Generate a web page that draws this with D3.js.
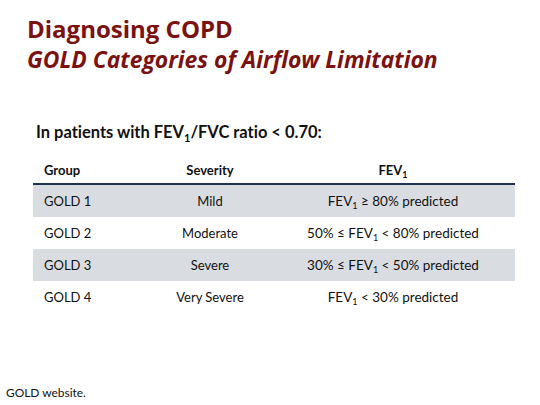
<!DOCTYPE html>
<html><head><meta charset="utf-8">
<script src="https://cdn.jsdelivr.net/npm/d3@7"></script>
<style>body{margin:0;background:#fff}svg{display:block}text{font-variant-ligatures:none}</style>
</head><body>
<svg id="c" width="540" height="405"></svg>
<script>
const groups = ["GOLD 1","GOLD 2","GOLD 3","GOLD 4"];
const severity = ["Mild","Moderate","Severe","Very Severe"];
const fevPre = ["", "50% \u2264 ", "30% \u2264 ", ""];
const fevPost = [" \u2265 80% predicted"," < 80% predicted"," < 50% predicted"," < 30% predicted"];
const headers = ["Group","Severity","FEV"];

const svg = d3.select("#c");
const F = "Lato, 'Open Sans', sans-serif";
const FO = "'Open Sans', Lato, sans-serif";
const red = "#7a1212";

function fit(t, w){
  const cur = t.node().getComputedTextLength();
  const k = w / cur;
  t.attr("font-size", +t.attr("font-size")*k);
  t.selectAll("tspan").each(function(){
    const s = d3.select(this);
    if(s.attr("font-size")) s.attr("font-size", +s.attr("font-size")*k);
  });
}

const t1 = svg.append("text").attr("x",27).attr("y",38).attr("fill",red)
  .attr("font-family",FO).attr("font-weight",700).attr("font-size",21).text("Diagnosing COPD");
fit(t1, 206);
const t2 = svg.append("text").attr("x",27).attr("y",68).attr("fill",red)
  .attr("font-family",FO).attr("font-weight",700).attr("font-style","italic").attr("font-size",19)
  .text("GOLD Categories of Airflow Limitation");
fit(t2, 411);

const sub = svg.append("text").attr("x",36).attr("y",138).attr("fill","#111")
  .attr("font-family",F).attr("font-weight",700).attr("font-size",15);
sub.append("tspan").text("In patients with FEV");
sub.append("tspan").attr("font-size",10).attr("dy",4).text("1");
sub.append("tspan").attr("dy",-4).text("/FVC ratio < 0.70:");
fit(sub, 286);

const x0 = 33, x1 = 515;
const y = d3.scaleBand().domain(groups).range([185, 313]);
const colX = [44, 210, 393];

headers.forEach((h,i)=>{
  const t = svg.append("text").attr("x",colX[i]).attr("y",175).attr("fill","#111")
    .attr("font-family",F).attr("font-weight",700).attr("font-size",13)
    .attr("text-anchor", i===0?"start":"middle");
  t.append("tspan").text(h);
  if(i===2){ t.append("tspan").attr("font-size",9).attr("dy",3).text("1"); }
});

svg.selectAll("rect.row").data(groups).join("rect").attr("class","row")
  .attr("x",x0).attr("width",x1-x0).attr("y",d=>y(d)).attr("height",y.bandwidth())
  .attr("fill",(d,i)=>i%2===0?"#d9dde2":"#ffffff");

svg.append("line").attr("x1",x0).attr("x2",x1).attr("y1",184).attr("y2",184)
  .attr("stroke","#1f3350").attr("stroke-width",2);

const rows = svg.selectAll("g.r").data(groups).join("g").attr("class","r")
  .attr("transform",d=>`translate(0,${y(d)+y.bandwidth()/2+5})`);
rows.append("text").attr("x",colX[0]).attr("fill","#111").attr("font-family",F).attr("font-size",13)
  .text(d=>d);
rows.append("text").attr("x",colX[1]).attr("text-anchor","middle").attr("fill","#111").attr("font-family",F).attr("font-size",13)
  .text((d,i)=>severity[i]);
rows.each(function(d,i){
  const t = d3.select(this).append("text").attr("x",colX[2]).attr("text-anchor","middle").attr("fill","#111")
    .attr("font-family",F).attr("font-size",13.5);
  t.append("tspan").text(fevPre[i]+"FEV");
  t.append("tspan").attr("font-size",9).attr("dy",3).text("1");
  t.append("tspan").attr("dy",-3).text(fevPost[i]);
});

const ft = svg.append("text").attr("x",6).attr("y",397).attr("fill","#111").attr("font-family",F).attr("font-size",11)
  .text("GOLD website.");
fit(ft, 80);
</script>
</body></html>
